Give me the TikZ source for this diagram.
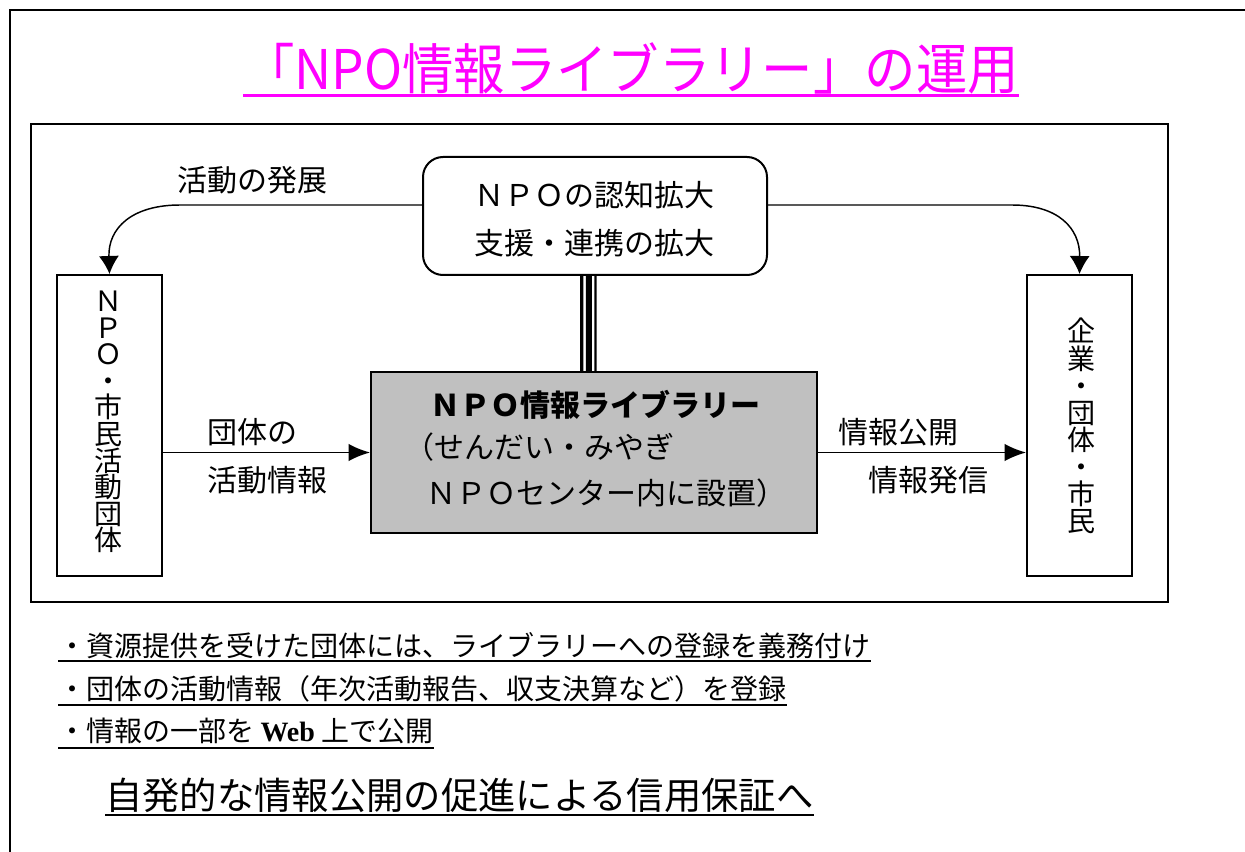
\documentclass[tikz,border=0pt]{standalone}
\usepackage{graphicx}
\usepackage{fontspec}
\setmainfont{Noto Sans CJK JP}
\newfontfamily\lserif{Liberation Serif}
\usetikzlibrary{arrows.meta}
\definecolor{libgray}{RGB}{192,192,192}
\definecolor{titlemag}{RGB}{255,0,255}
\tikzset{
  box/.style={draw, line width=1.5pt, inner sep=0pt},
  lbl/.style={font=\fontsize{22.5}{27}\selectfont, inner sep=0pt},
  conn/.style={line width=1.1pt, -{Latex[length=16pt,width=13pt]}},
  curv/.style={line width=1.1pt, -{Latex[length=13.5pt,width=15pt]}},
  bul/.style={font=\fontsize{21}{25}\selectfont, inner sep=0pt, anchor=base west},
  uline/.style={line width=1.6pt},
  vtext/.style={align=center, inner sep=0pt, font=\fontsize{21}{19.9}\selectfont},
}
\begin{document}
\begin{tikzpicture}[x=0.75pt,y=-0.75pt]
\useasboundingbox (0,0) rectangle (1245,852);
% outer frame (top and left)
\draw[line width=1.5pt] (1245,10) -- (10,10) -- (10,852);
% title
\node[font=\fontsize{41}{49}\selectfont, text=titlemag, anchor=base, inner sep=0pt] (title) at (631,90) {\scalebox{0.94}[1]{「NPO情報ライブラリー」の運用}};
\draw[titlemag, line width=2.4pt] ([yshift=-4pt]title.base west) -- ([yshift=-4pt]title.base east);
% inner frame
\draw[line width=1.5pt] (31,124) rectangle (1168,602);
% boxes
\node[box, rounded corners=15pt, minimum width=258pt, minimum height=88.5pt, fill=white] (top) at (595,216) {};
\node[lbl, align=center, font=\fontsize{22.5}{36}\selectfont] (toptext) at (594,219) {ＮＰＯの認知拡大\\支援・連携の拡大};
\node[box, minimum width=78.75pt, minimum height=225.75pt] (left) at (109.5,425.5) {};
\node[vtext] (lefttext) at (108,422) {Ｎ\\Ｐ\\Ｏ\\・\\市\\民\\活\\動\\団\\体};
\node[box, minimum width=78.75pt, minimum height=225.75pt] (right) at (1079.5,425.5) {};
\node[vtext, font=\fontsize{21}{20.3}\selectfont] (righttext) at (1081,426) {企\\業\\・\\団\\体\\・\\市\\民};
\node[box, fill=libgray, minimum width=334.5pt, minimum height=120.75pt] (lib) at (594,452.5) {};
\node[lbl, font=\bfseries\fontsize{22.5}{27}\selectfont] (libt1) at (595,405) {ＮＰＯ情報ライブラリー};
\node[lbl, anchor=west] (libt2) at (404,447) {（せんだい・みやぎ};
\node[lbl, anchor=west] (libt3) at (426,493) {ＮＰＯセンター内に設置）};
% triple line
\draw[line width=2.4pt] ([xshift=-9.9pt]top.south) -- ([xshift=-9.2pt]lib.north);
\draw[line width=4.5pt] ([xshift=-4.6pt]top.south) -- ([xshift=-3.9pt]lib.north);
\draw[line width=1.8pt] ([xshift=0.4pt]top.south) -- ([xshift=1.1pt]lib.north);
% curved arrows
\coordinate (lbend) at (180,205);
\coordinate (rbend) at (1012,205);
\draw[curv] ([yshift=8.25pt]top.west) -- (lbend) .. controls (132,205) and (108,228) .. (left.north);
\draw[curv] ([yshift=8.25pt]top.east) -- (rbend) .. controls (1058,205) and (1080,228) .. (right.north);
\node[lbl] (dev) at (252,180) {活動の発展};
% horizontal arrows
\draw[conn] (left.east |- lib.west) -- (lib.west);
\draw[conn] (lib.east) -- (right.west |- lib.east);
\node[lbl, anchor=west] (in1) at (207,432) {団体の};
\node[lbl, anchor=west] (in2) at (207,480) {活動情報};
\node[lbl, anchor=west] (out1) at (838,432) {情報公開};
\node[lbl, anchor=west] (out2) at (868,480) {情報発信};
% bullet texts
\node[bul] (b1) at (58,656) {・資源提供を受けた団体には、ライブラリーへの登録を義務付け};
\draw[uline] ([yshift=-3.75pt]b1.base west) -- ([yshift=-3.75pt]b1.base east);
\node[bul] (b2) at (58,699) {・団体の活動情報（年次活動報告、収支決算など）を登録};
\draw[uline] ([yshift=-4.5pt]b2.base west) -- ([yshift=-4.5pt]b2.base east);
\node[bul] (b3) at (58,741) {・情報の一部を {\lserif\bfseries Web} 上で公開};
\draw[uline] ([yshift=-5.25pt]b3.base west) -- ([yshift=-5.25pt]b3.base east);
\node[bul, font=\fontsize{28}{33}\selectfont] (concl) at (105,809) {自発的な情報公開の促進による信用保証へ};
\draw[uline] ([yshift=-4.5pt]concl.base west) -- ([yshift=-4.5pt]concl.base east);
\end{tikzpicture}
\end{document}
